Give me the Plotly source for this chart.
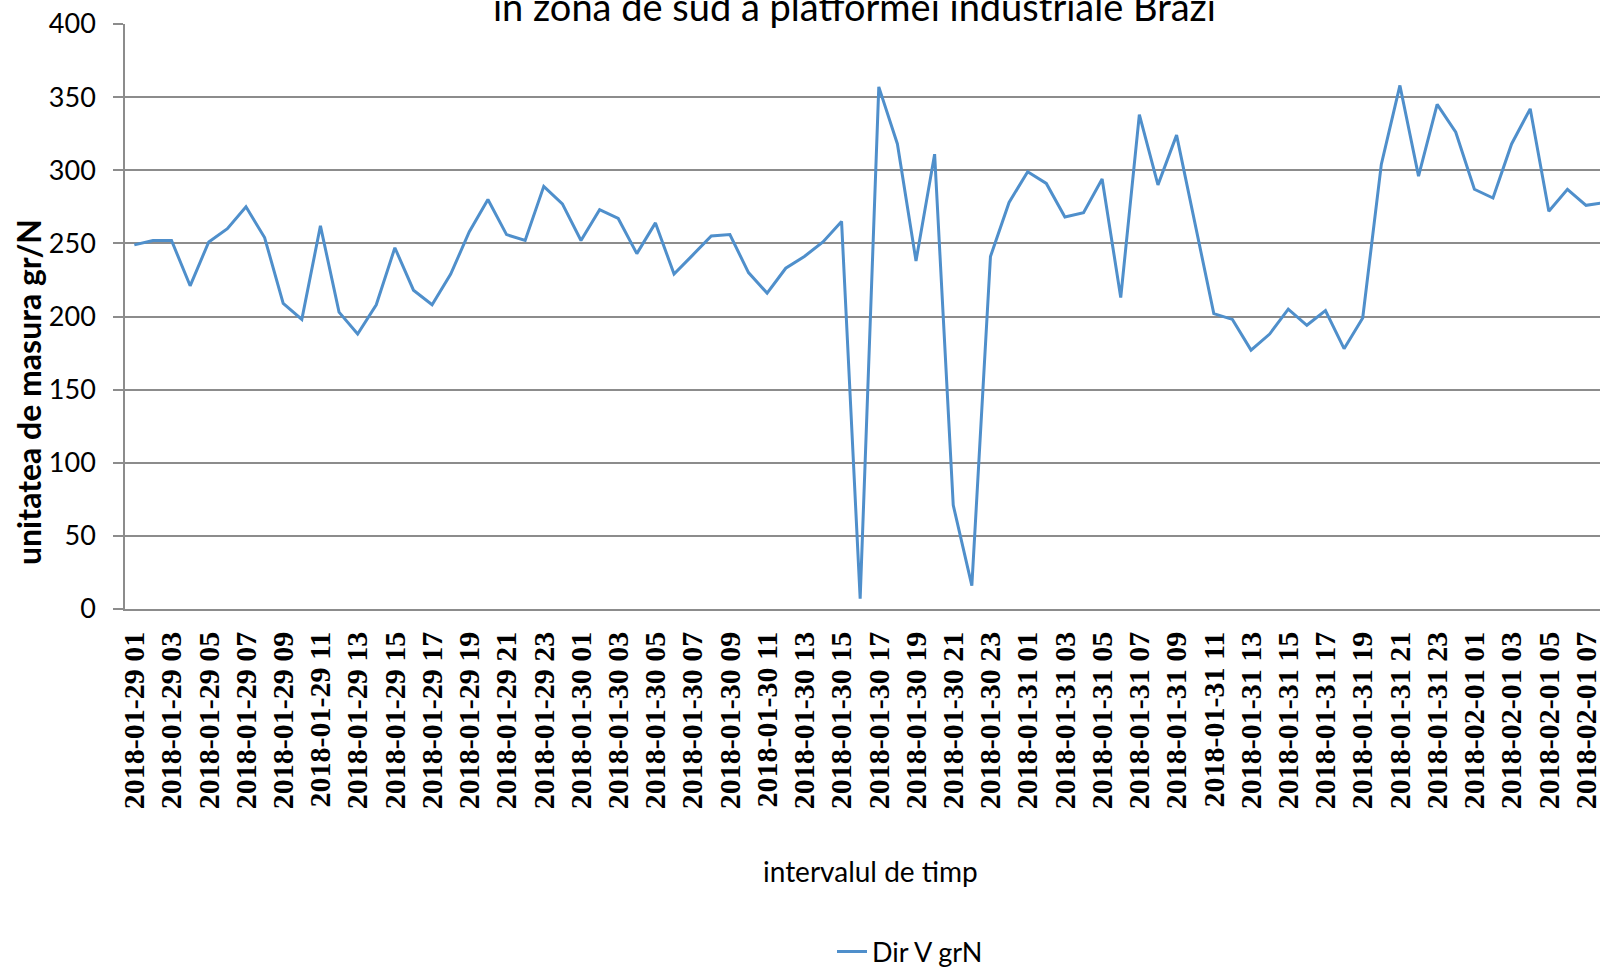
import plotly.graph_objects as go

# Hourly categories: 2018-01-29 01 ... 2018-02-01 08
days = ["2018-01-29", "2018-01-30", "2018-01-31", "2018-02-01"]
categories = []
for d in days:
    for h in range(24):
        if d == "2018-01-29" and h == 0:
            continue
        categories.append(f"{d} {h:02d}")
categories = categories[:80]

dir_v = [249, 252, 252, 221, 251, 260, 275, 254, 209, 198,
         262, 203, 188, 208, 247, 218, 208, 229, 258, 280,
         256, 252, 289, 277, 252, 273, 267, 243, 264, 229,
         242, 255, 256, 230, 216, 233, 241, 251, 265, 7,
         357, 318, 238, 311, 71, 16, 241, 278, 299, 291,
         268, 271, 294, 213, 338, 290, 324, 262, 202, 198,
         177, 188, 205, 194, 204, 178, 199, 304, 358, 296,
         345, 326, 287, 281, 318, 342, 272, 287, 276, 278]

tick_labels = categories[0:79:2]

title_text = "in zona de sud a platformei industriale Brazi"
y_title = "unitatea de masura gr/N"
x_title = "intervalul de timp"
series_name = "Dir V grN"

W, H = 1600, 971
L, R, T, B = 125, 0, 24, 362
plot_h = H - T - B
plot_w = W - L - R

def px_to_paper_y(py):
    return (H - B - py) / plot_h

def px_to_paper_x(px):
    return (px - L) / plot_w

fig = go.Figure()
fig.add_trace(go.Scatter(
    x=categories, y=dir_v, mode="lines", name=series_name,
    line=dict(color="#4F8FCB", width=3),
))

grid_col = "#8C8C8C"
fig.update_layout(
    width=W, height=H,
    margin=dict(l=L, r=R, t=T, b=B, autoexpand=False),
    paper_bgcolor="white", plot_bgcolor="white",
    showlegend=True,
    legend=dict(orientation="h", x=px_to_paper_x(832), xanchor="left",
                y=px_to_paper_y(952), yanchor="middle",
                font=dict(family="Lato", size=27, color="black"),
                bgcolor="rgba(0,0,0,0)"),
    xaxis=dict(type="category", categoryorder="array", categoryarray=categories,
               range=[-0.5, 78.75], tickmode="array", tickvals=tick_labels,
               ticktext=tick_labels, tickangle=-90, automargin=False,
               tickfont=dict(family="Liberation Serif", size=30, color="black", weight="bold"),
               ticklabelstandoff=9,
               showgrid=False, showline=True, linecolor=grid_col, linewidth=1.5,
               ticks="", zeroline=False),
    yaxis=dict(range=[0, 400], dtick=50, tick0=0, automargin=False,
               tickfont=dict(family="Lato", size=27, color="black"),
               showgrid=True, gridcolor=grid_col, gridwidth=1.5,
               showline=True, linecolor=grid_col, linewidth=1.5,
               ticks="outside", ticklen=10, tickcolor=grid_col, tickwidth=1.5,
               ticklabelstandoff=12, zeroline=False),
    annotations=[
        dict(text=title_text, xref="paper", yref="paper",
             x=px_to_paper_x(854), y=px_to_paper_y(6), xanchor="center", yanchor="middle",
             showarrow=False, font=dict(family="Lato", size=38, color="black")),
        dict(text=y_title, xref="paper", yref="paper", textangle=-90,
             x=px_to_paper_x(28), y=px_to_paper_y(392), xanchor="center", yanchor="middle",
             showarrow=False, font=dict(family="Lato", size=32, color="black", weight="bold")),
        dict(text=x_title, xref="paper", yref="paper",
             x=px_to_paper_x(870), y=px_to_paper_y(871), xanchor="center", yanchor="middle",
             showarrow=False, font=dict(family="Lato", size=28, color="black")),
    ],
)

fig.write_html("out.html", config={"displayModeBar": False},
               post_script="document.body.style.margin='0';")
